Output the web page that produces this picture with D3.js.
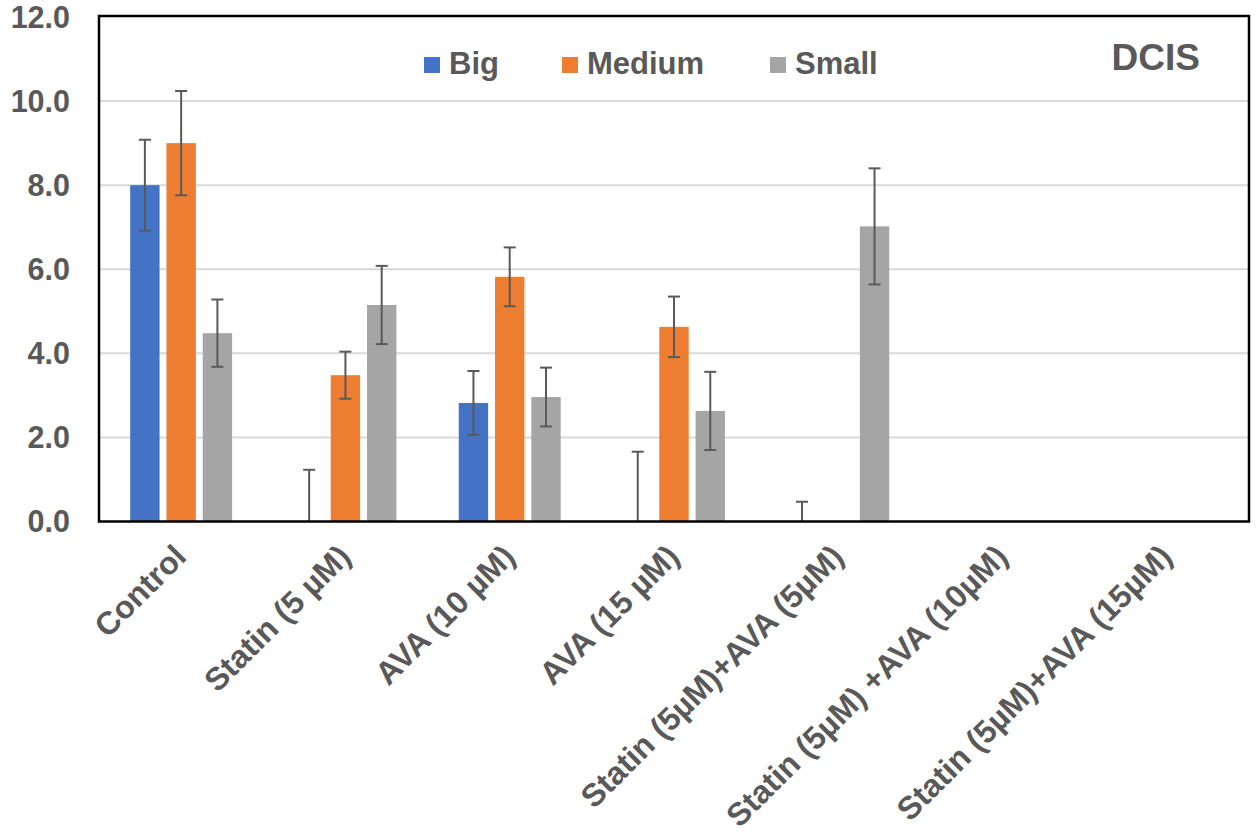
<!DOCTYPE html>
<html>
<head>
<meta charset="utf-8">
<script src="https://cdn.jsdelivr.net/npm/d3@7"></script>
<style>
  body { margin: 0; background: #fff; }
  text { font-family: "Liberation Sans", Arial, sans-serif; font-weight: bold; fill: #595959; }
</style>
</head>
<body>
<script>
const categories = ["Control", "Statin (5 µM)", "AVA (10 µM)", "AVA (15 µM)",
  "Statin (5µM)+AVA (5µM)", "Statin (5µM) +AVA (10µM)", "Statin (5µM)+AVA (15µM)"];
const seriesNames = ["Big", "Medium", "Small"];
const colors = ["#4472C4", "#ED7D31", "#A5A5A5"];
const bigValues = [8.0, 0, 2.82, 0, 0, 0, 0];
const bigErrors = [1.08, 1.23, 0.76, 1.66, 0.47, 0, 0];
const mediumValues = [9.0, 3.48, 5.82, 4.63, 0, 0, 0];
const mediumErrors = [1.24, 0.56, 0.70, 0.72, 0, 0, 0];
const smallValues = [4.48, 5.15, 2.96, 2.63, 7.02, 0, 0];
const smallErrors = [0.8, 0.93, 0.70, 0.93, 1.38, 0, 0];
const yTicks = [0, 2, 4, 6, 8, 10, 12];

const W = 1256, H = 837;
const plotL = 99, plotR = 1249, plotT = 17, plotB = 521.5;

const svg = d3.select("body").append("svg").attr("width", W).attr("height", H);

const x0 = d3.scaleBand().domain(categories).range([plotL, plotR]).paddingInner(0).paddingOuter(0);
const x1 = d3.scaleBand().domain(seriesNames).range([0, x0.bandwidth()]).paddingInner(0.19).paddingOuter(0.86);
const y = d3.scaleLinear().domain([0, 12]).range([plotB, plotT]);

// gridlines
svg.append("g").selectAll("line").data(yTicks.filter(t => t > 0 && t < 12)).join("line")
  .attr("x1", plotL).attr("x2", plotR)
  .attr("y1", d => y(d)).attr("y2", d => y(d))
  .attr("stroke", "#d9d9d9").attr("stroke-width", 2);

// y tick labels
svg.append("g").selectAll("text").data(yTicks).join("text")
  .attr("x", 70).attr("y", d => y(d)).attr("dy", "0.36em")
  .attr("text-anchor", "end").style("font-size", "30.5px")
  .text(d => d3.format(".1f")(d));

const allValues = [bigValues, mediumValues, smallValues];
const allErrors = [bigErrors, mediumErrors, smallErrors];
const rows = [];
seriesNames.forEach((s, si) => {
  categories.forEach((c, ci) => {
    rows.push({ s, si, c, v: allValues[si][ci], e: allErrors[si][ci] });
  });
});

// bars
svg.append("g").selectAll("rect").data(rows.filter(d => d.v > 0)).join("rect")
  .attr("x", d => x0(d.c) + x1(d.s))
  .attr("y", d => y(d.v))
  .attr("width", x1.bandwidth())
  .attr("height", d => y(0) - y(d.v))
  .attr("fill", d => colors[d.si]);

// error bars
const eb = svg.append("g").attr("stroke", "#595959").attr("stroke-width", 2);
rows.filter(d => d.e > 0).forEach(d => {
  const cx = x0(d.c) + x1(d.s) + x1.bandwidth() / 2;
  const hi = d.v + d.e;
  const lo = Math.max(0, d.v - d.e);
  eb.append("line").attr("x1", cx).attr("x2", cx).attr("y1", y(hi)).attr("y2", y(lo));
  eb.append("line").attr("x1", cx - 6).attr("x2", cx + 6).attr("y1", y(hi)).attr("y2", y(hi));
  if (d.v - d.e >= 0) {
    eb.append("line").attr("x1", cx - 6).attr("x2", cx + 6).attr("y1", y(lo)).attr("y2", y(lo));
  }
});

// frame
svg.append("rect").attr("x", plotL).attr("y", 16).attr("width", plotR - plotL).attr("height", plotB - 16)
  .attr("fill", "none").attr("stroke", "#000").attr("stroke-width", 2.5);

// x labels
svg.append("g").selectAll("text").data(categories).join("text")
  .attr("transform", d => `translate(${x0(d) + x0.bandwidth() / 2 + 7},${plotB + 37}) rotate(-45)`)
  .attr("text-anchor", "end").style("font-size", "32px")
  .text(d => d);

// legend
const legendX = [424, 562, 770];
const lg = svg.append("g").selectAll("g").data(seriesNames).join("g")
  .attr("transform", (d, i) => `translate(${legendX[i]},0)`);
lg.append("rect").attr("x", 0).attr("y", 57).attr("width", 16).attr("height", 16)
  .attr("fill", (d, i) => colors[i]);
lg.append("text").attr("x", 25).attr("y", 73.5).style("font-size", "31px").text(d => d);

svg.append("text").attr("x", 1200).attr("y", 70).attr("text-anchor", "end")
  .style("font-size", "37px").text("DCIS");
</script>
</body>
</html>
